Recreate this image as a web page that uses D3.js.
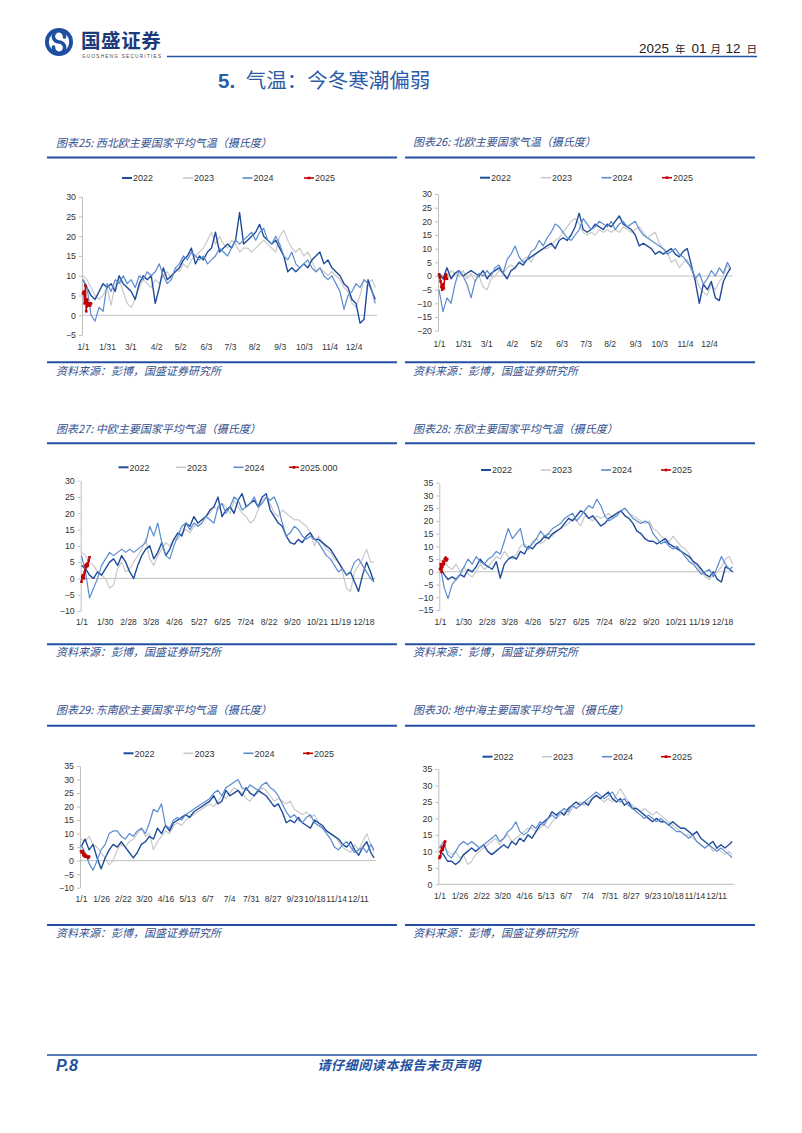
<!DOCTYPE html>
<html><head><meta charset="utf-8">
<script src="https://cdn.jsdelivr.net/npm/d3@7"></script>
<style>
body{margin:0;background:#fff}
svg{display:block}
.ctitle,.csrc{font-family:"Noto Sans CJK SC",sans-serif;font-style:italic;font-size:11px;fill:#34508e}
.lab{font-family:"Liberation Sans",Arial,sans-serif;font-size:8.8px;fill:#333}
.xlab{font-family:"Liberation Sans",Arial,sans-serif;font-size:8.5px;fill:#333}
.leg{font-family:"Liberation Sans",Arial,sans-serif;font-size:9px;fill:#333}
</style>
</head><body>
<svg id="page" width="802" height="1133"></svg>
<script>
// ---------- categories (day index from 1 Jan) ----------
const days = [0,5,10,15,20,25,30,35,40,45,50,55,60,65,70,75,80,85,90,95,100,105,110,115,120,125,130,135,140,145,150,155,160,165,170,175,180,185,190,195,200,205,210,215,220,225,230,235,240,245,250,255,260,265,270,275,280,285,290,295,300,305,310,315,320,325,330,335,340,345,350,355,360,364];
const days2025 = [0,1,2,3,4,5,6,7,8,9,10];
const seriesNames = ["2022","2023","2024","2025"];

// ---------- tick labels ----------
const ticksA = [0,30,59,91,121,153,183,213,245,275,307,337];
const labelsA = ["1/1","1/31","3/1","4/2","5/2","6/3","7/3","8/2","9/3","10/3","11/4","12/4"];
const ticksB = [0,29,58,86,115,146,175,204,233,262,293,322,351];
const labelsB = ["1/1","1/30","2/28","3/28","4/26","5/27","6/25","7/24","8/22","9/20","10/21","11/19","12/18"];
const ticksC = [0,25,52,78,105,132,157,184,211,238,265,290,317,344];
const labelsC = ["1/1","1/26","2/22","3/20","4/16","5/13","6/7","7/4","7/31","8/27","9/23","10/18","11/14","12/11"];

// ---------- 图表25 西北欧 ----------
const nwe2022 = [9,7,5,4,6,8,7,8,6,10,8,7,6,4,8,10,9,10,3,7,12,9,10,11,12,14,15,17,13,15,14,16,17,21,16,17,18,17,19,26,18,19,20,21,23,20,19,18,19,17,15,11,12,11,12,13,12,14,15,16,13,14,12,11,10,8,7,4,3,-2,-1,9,6,4];
const nwe2023 = [10,9,7,5,4,5,7,2.5,8,9,6,3,2,4,7,9,8,7,9,8,10,11,9,12,11,13,12,14,15,16,17,19,21,18,20,18,17,19,18,16,17,17,16,17,18,19,18,17,16,20,21.5,19,17,16,17,15,16,14,11,12,11,10,11,10,9,7,6,3,2,5,9,8,9,7];
const nwe2024 = [9,7,0,-1.5,2,1,8,6,9,8,10,8,9,7,10,9,11,10,11,13,10,8,9,12,13,15,14,16,15,14,15,13,14,15,17,16,15,17,19,18,19,20,21,19,21,22,19,18,20,18,15,14,16,13,12,13,14,12,11,12,10,9,10,8,6,1.5,5,6,8,7,9,8,6,3];
const nwe2025 = [5.5,6,3,7.5,1,4,2.5,3,2.5,2.5,3];

// ---------- 图表26 北欧 ----------
const ne2022 = [1,-1,3,-1,1,2,0,1,2,1,0,2,-1,1,2,3,1,-1,2,3,5,4,6,7,8,9,10,11,12,10,13,14,13,15,18,23,17,16,17,19,18,17,19,18,20,22,19,18,17,15,11,12,11,10,8,9,8,9,10,8,7,9,10,4,-2,-10,-3,-5,-2,-8,-9,-2,1,3];
const ne2023 = [1,0,-1,2,1,0,2,-1,1,-2,0,-4,-5,-1,0,2,1,3,4,3,5,6,7,5,8,9,10,10,11,13,14,16,18,20,21,19,16,15,16,15,17,16,17,16,17,16,18,17,16,17,18,16,14,15,16,12,10,9,5,6,3,5,6,2,0,-4,-6,-7,-3,-5,-2,0,4,2];
const ne2024 = [-5,-13,-8,-10,-3,2,0,-3,-8,-2,1,0,2,0,3,4,1,6,8,11,7,5,6,9,10,13,11,14,16,19,18,16,14,13,15,17,21,19,17,18,20,19,18,20,17,19,20,18,19,20,17,15,14,13,12,11,10,8,9,10,8,7,5,3,-1,1,-3,-1,2,0,3,1,5,3];
const ne2025 = [0.5,-0.5,-2,-4,-5,-3,-4.5,-1,0,0.5,-1];

// ---------- 图表27 中欧 ----------
const ce2022 = [4,3,1,0,2,1,3,5,6,4,7,5,2,0,4,7,9,10,6,8,11,7,9,12,14,13,17,16,19,17,18,19,21,22,25,19,21,22,20,24,26,22,23,24,22,25,26,21,19,17,16,13,11,10.5,12,11,13,14,12,12,11,10,9,7,5,3,1,2,-1,-4,1,5,2,-1];
const ce2023 = [8,7,5,4,2,1,0,-3,-2,3,5,2,3,5,7,9,12,6,4,7,9,11,10,12,12,14,15,14,16,17,18,19,20,22,21,23,22,20,24,22,20,19,17,18,21,24,25,23,20,19,21,20,19,18,18,17,16,14,10,13,11,9,8,6,5,2,-3,-4,2,4,6,9,5,5];
const ce2024 = [7,2,-6,-3,0,4,6,8,7,8,9,8,9,8,9,10,11,16,13,17,11,7,6,10,13,16,17,15,17,16,17,19,18,17,22,23,20,22,25,24,21,22,23,25,22,23,25,24,25,22,17,13,14,16,15,13,12,13,12,11,9,7,6,4,2,3,1,2,5,6,4,2,0,-1];
const ce2025 = [-1,0.5,1,0,2,4,3.5,4.5,4,5.5,6.5];

// ---------- 图表28 东欧 ----------
const ee2022 = [2,-1,-3,-2,-3,-1,-2,1,0,2,5,3,2,1,4,-2.5,3,5,6,5,8,7,10,9,11,12,14,13,15,16,17,19,21,20,22,24,23,21,22,20,18,19,21,22,23,24,22,21,19,16,15,13,12,12,11,12,13,11,10,9,8,7,6,4,3,1,-1,-2,0,-3,-4,2,1,0];
const ee2023 = [4,5,2,1,3,0,2,-1,-2,0,3,1,2,4,6,5,8,6,5,7,10,11,9,12,13,11,12,15,14,16,17,18,19,21,20,18,22,21,20,22,21,22,23,21,23,24,25,23,22,21,20,19,20,17,16,14,13,12,14,12,10,9,7,4,2,0,-2,-3,-1,0,2,5,6,3];
const ee2024 = [3,-6,-10.5,-5,-3,-1,2,5,3,6,4,3,5,6,8,7,12,17,13,15,17,10,9,11,13,16,14,15,17,18,19,21,22,23,20,22,24,26,25,28.5,26,22,20,21,22,24,25,23,21,20,19,20,19,15,13,11,12,10,9,10,8,6,4,3,1,-1,0,1,-2,2,6,3,1,2];
const ee2025 = [1,3,0,2,4,3,5,5.5,4.5,5];

// ---------- 图表29 东南欧 ----------
const se2022 = [5,8,4,6,1,-3,1,4,6,5,7,5,3,1,3,6,7,9,8,12,10,13,11,14,15,16,17,16,18,19,20,21,22,24,21,22,26,24,25,26,24,27,25,24,26,25,24,22,20,21,18,14,15,14,16,14,13,12,15,14,13,11,10,9,8,6,5,7,4,2,5,7,3,1];
const se2023 = [8,7,9,6,5,3,1,-1.5,0,4,6,5,7,8,10,12,9,10,4,7,9,11,10,13,14,13,15,16,17,18,19,20,21,20,22,24,23,25,27,26,25,23,22,24,25,27,26,24,22,23,22,21,22,19,18,17,18,16,17,14,12,11,10,9,7,5,4,3,6,4,7,10,6,3];
const se2024 = [6,3,-1,-3.5,0,4,6,10,11,11,9,8,10,9,11,12,10,14,19,18,21,13,12,15,16,15,17,18,19,20,21,22,23,25,26,24,27,28,29,30,27,26,28,27,26,28,29,27,26,24,21,18,16,17,15,14,16,17,14,13,12,10,8,5,4,6,7,5,3,4,5,3,6,4];
const se2025 = [3.5,3,3.5,2,2.5,1.5,2,1.5,1.5,1,1.5];

// ---------- 图表30 地中海 ----------
const med2022 = [10,9,7,7,6,7,9,10,11,10,11,12,10,9,10,11,12,11,13,12,14,13,15,14,16,18,19,20,22,21,22,21,23,24,25,24,25,24,26,27,26,27,28,26,25,26,24,25,23,23,22,21,20,19,20,19,19,18,19,18,17,17,16,15,16,14,13,12,13,11,12,11,12,13];
const med2023 = [12,11,10,9,10,8,9,6,7,9,10,11,12,13,14,12,14,15,13,14,15,16,17,17,16,17,18,17,19,20,21,22,21,23,24,25,24,25,26,27,26,25,26,25,27,29,27,25,24,23,22,23,22,21,22,21,20,19,18,17,16,15,15,14,13,12,11,12,10,11,10,9,10,9];
const med2024 = [11,13,9,8,10,12,13,12,13,12,11,12,13,14,15,13,14,16,17,19,16,15,16,18,17,19,18,20,21,20,22,23,22,24,23,24,25,26,27,28,27,26,27,28,26,25,26,24,23,22,21,20,21,20,19,20,19,18,17,16,16,15,14,15,13,12,11,12,11,10,11,10,9,8];
const med2025 = [8,8.5,10,11,10.5,11.5,12,13];

// ---------- page ----------
const svg = d3.select("#page");
const BLUE = "#2350a0";
const col = {"2022":"#1f4c9a","2023":"#c9c9c9","2024":"#5b8bd0","2025":"#c00000"};
const sw = {"2022":1.4,"2023":1.2,"2024":1.2,"2025":1.5};

// header logo
const logo = svg.append("g");
logo.append("circle").attr("cx",59).attr("cy",42).attr("r",14).attr("fill","#1d4fa0");
logo.append("circle").attr("cx",59).attr("cy",42).attr("r",10.2).attr("fill","#fff");
logo.append("path").attr("d","M64.5,37 A5.6,5.6 0 1 0 59,42 A5.6,5.6 0 1 1 53.5,47")
  .attr("fill","none").attr("stroke","#1d4fa0").attr("stroke-width",3.6).attr("stroke-linecap","round");
svg.append("text").attr("x",81).attr("y",47.5).attr("font-family","Noto Sans CJK SC")
  .attr("font-weight",700).attr("font-size",19.5).attr("letter-spacing",0.6).attr("fill","#1b3a7a").text("国盛证券");
svg.append("text").attr("x",82).attr("y",57.8).attr("font-family","Liberation Sans")
  .attr("font-size",4.6).attr("fill","#444").attr("textLength",79).attr("lengthAdjust","spacing").text("GUOSHENG SECURITIES");
svg.append("line").attr("x1",167).attr("x2",757).attr("y1",56.5).attr("y2",56.5).attr("stroke",BLUE).attr("stroke-width",1.5);
// date
const dateParts = [["2025",639,13.5],["年",675,10.5],["01",691.5,13.5],["月",710.5,10.5],["12",725.5,13.5],["日",746.5,10.5]];
dateParts.forEach(p=>{
  svg.append("text").attr("x",p[1]).attr("y",52.5).attr("font-size",p[2])
    .attr("font-family",/\d/.test(p[0])?"Liberation Sans":"Noto Sans CJK SC").attr("fill","#222").text(p[0]);
});
// section title
const st = svg.append("text").attr("x",218).attr("y",88).attr("fill","#2b5ca8").attr("font-size",20.5);
st.append("tspan").attr("font-family","Liberation Sans").attr("font-weight",700).text("5. ");
st.append("tspan").attr("font-family","Noto Sans CJK SC").attr("dx",5).text("气温：今冬寒潮偏弱");
// footer
svg.append("line").attr("x1",47).attr("x2",757).attr("y1",1055).attr("y2",1055).attr("stroke",BLUE).attr("stroke-width",1.5);
svg.append("text").attr("x",56).attr("y",1070.5).attr("font-family","Liberation Sans").attr("font-weight",700)
  .attr("font-style","italic").attr("font-size",16).attr("fill",BLUE).text("P.8");
svg.append("text").attr("x",399).attr("y",1070).attr("text-anchor","middle").attr("font-family","Noto Sans CJK SC")
  .attr("font-style","italic").attr("font-weight",700).attr("font-size",13).attr("letter-spacing",0.6).attr("fill",BLUE).text("请仔细阅读本报告末页声明");

// ---------- charts ----------
const charts = [
 {title:"图表25: 西北欧主要国家平均气温（摄氏度）", tx:56, titleY:147, rx1:47, rx2:397, ruleTop:157.5, ruleBot:362.3, srcY:375,
  x0:83, k:0.803, axisX:82, yDomain:[-5,30], yRange:[335,196.7], xLabY:350, tk:ticksA, tl:labelsA,
  legY:178, legX:[133,194,253.5,315], lab25:"2025", s:[nwe2022,nwe2023,nwe2024,nwe2025]},
 {title:"图表26: 北欧主要国家气温（摄氏度）", tx:413, titleY:146, rx1:405, rx2:755, ruleTop:157.5, ruleBot:362.3, srcY:375,
  x0:439, k:0.801, axisX:438, yDomain:[-20,30], yRange:[330.7,194], xLabY:346.5, tk:ticksA, tl:labelsA,
  legY:177.7, legX:[491,552,612.5,673], lab25:"2025", s:[ne2022,ne2023,ne2024,ne2025]},
 {title:"图表27: 中欧主要国家平均气温（摄氏度）", tx:56, titleY:433, rx1:47, rx2:397, ruleTop:443.3, ruleBot:644.3, srcY:656,
  x0:81.5, k:0.803, axisX:80.7, yDomain:[-10,30], yRange:[611,480.7], xLabY:625, tk:ticksB, tl:labelsB,
  legY:467.3, legX:[129.5,187,244.5,300], lab25:"2025.000", s:[ce2022,ce2023,ce2024,ce2025]},
 {title:"图表28: 东欧主要国家平均气温（摄氏度）", tx:413, titleY:433, rx1:405, rx2:755, ruleTop:443.3, ruleBot:644.3, srcY:656,
  x0:440, k:0.804, axisX:439.3, yDomain:[-15,35], yRange:[610,482.7], xLabY:624.5, tk:ticksB, tl:labelsB,
  legY:470, legX:[492,552,612,672], lab25:"2025", s:[ee2022,ee2023,ee2024,ee2025]},
 {title:"图表29: 东南欧主要国家平均气温（摄氏度）", tx:56, titleY:714, rx1:47, rx2:397, ruleTop:725.7, ruleBot:925, srcY:937,
  x0:81, k:0.805, axisX:80, yDomain:[-10,35], yRange:[887.7,766], xLabY:901.5, tk:ticksC, tl:labelsC,
  legY:753.3, legX:[134.5,194.5,254.5,314], lab25:"2025", s:[se2022,se2023,se2024,se2025]},
 {title:"图表30: 地中海主要国家平均气温（摄氏度）", tx:413, titleY:714, rx1:405, rx2:755, ruleTop:725.7, ruleBot:925, srcY:937,
  x0:439.5, k:0.804, axisX:438.3, yDomain:[0,35], yRange:[884.3,769], xLabY:898.5, tk:ticksC, tl:labelsC,
  legY:756.7, legX:[493.5,553,613,672], lab25:"2025", s:[med2022,med2023,med2024,med2025]}
];

function drawChart(c){
  const g = svg.append("g");
  g.append("text").attr("class","ctitle").attr("x",c.tx).attr("y",c.titleY).text(c.title);
  g.append("line").attr("x1",c.rx1).attr("x2",c.rx2).attr("y1",c.ruleTop).attr("y2",c.ruleTop).attr("stroke",BLUE).attr("stroke-width",2);
  g.append("line").attr("x1",c.rx1).attr("x2",c.rx2).attr("y1",c.ruleBot).attr("y2",c.ruleBot).attr("stroke",BLUE).attr("stroke-width",2);
  g.append("text").attr("class","csrc").attr("x",c.tx).attr("y",c.srcY).text("资料来源：彭博，国盛证券研究所");

  const x = d3.scaleLinear().domain([0,364]).range([c.x0, c.x0 + 364*c.k]);
  const y = d3.scaleLinear().domain(c.yDomain).range(c.yRange);

  // y axis
  const yTicks = d3.range(c.yDomain[0], c.yDomain[1]+0.1, 5);
  const ya = g.append("g").attr("transform",`translate(${c.axisX},0)`)
    .call(d3.axisLeft(y).tickValues(yTicks).tickSizeInner(3).tickSizeOuter(0).tickPadding(3));
  ya.select(".domain").attr("stroke","#bfbfbf");
  ya.selectAll(".tick line").attr("stroke","#bfbfbf");
  ya.selectAll(".tick text").attr("class","lab").attr("fill",null);
  ya.attr("font-family",null).attr("font-size",null);

  // zero line
  g.append("line").attr("x1",c.axisX).attr("x2",x(365)+1).attr("y1",y(0)).attr("y2",y(0))
    .attr("stroke","#bfbfbf").attr("stroke-width",1);

  // x labels
  const xa = g.append("g").attr("transform",`translate(0,${c.xLabY})`)
    .call(d3.axisBottom(x).tickValues(c.tk).tickFormat((d,i)=>c.tl[i]).tickSize(0).tickPadding(0));
  xa.select(".domain").remove();
  xa.selectAll(".tick text").attr("dy",null).attr("y",0).attr("class","xlab").attr("fill",null);
  xa.attr("font-family",null).attr("font-size",null);

  // series
  const line = d3.line().x(d=>x(d[0])).y(d=>y(d[1]));
  const order = [1,0,2];
  order.forEach(i=>{
    const pts = days.map((d,j)=>[d,c.s[i][j]]).filter(p=>p[1]!==undefined);
    g.append("path").datum(pts).attr("d",line).attr("fill","none")
      .attr("stroke",col[seriesNames[i]]).attr("stroke-width",sw[seriesNames[i]]).attr("stroke-linejoin","round");
  });
  const p25 = c.s[3].map((v,j)=>[days2025[j],v]);
  g.append("path").datum(p25).attr("d",line).attr("fill","none").attr("stroke",col["2025"]).attr("stroke-width",1.5);
  g.selectAll("rect.m25").data(p25).enter().append("rect").attr("class","m25")
    .attr("x",d=>x(d[0])-1.3).attr("y",d=>y(d[1])-1.3).attr("width",2.6).attr("height",2.6).attr("fill",col["2025"]);

  // legend
  seriesNames.forEach((nm,i)=>{
    const tx = c.legX[i];
    g.append("line").attr("x1",tx-11).attr("x2",tx-1).attr("y1",c.legY).attr("y2",c.legY)
      .attr("stroke",col[nm]).attr("stroke-width",nm==="2022"?2:1.6);
    if(nm==="2025"){
      g.append("rect").attr("x",tx-7.3).attr("y",c.legY-1.3).attr("width",2.6).attr("height",2.6).attr("fill",col[nm]);
    }
    g.append("text").attr("class","leg").attr("x",tx).attr("y",c.legY+3.2).text(nm==="2025"?c.lab25:nm);
  });
}
charts.forEach(drawChart);
</script>
</body></html>
